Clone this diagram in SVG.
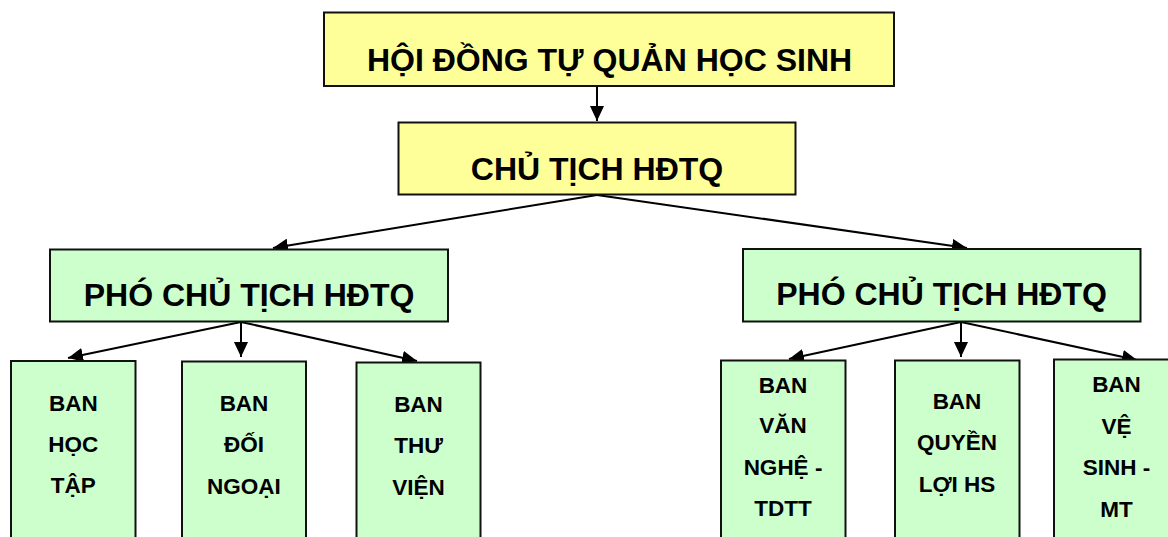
<svg xmlns="http://www.w3.org/2000/svg" width="1168" height="537" viewBox="0 0 1168 537">
<style>
.y{fill:#FFFF99;stroke:#111;stroke-width:2}
.g{fill:#CCFFCC;stroke:#111;stroke-width:2}
.t{font-family:"Liberation Sans",Arial,sans-serif;font-weight:bold;font-size:32px;fill:#000;text-anchor:middle}
.s{font-family:"Liberation Sans",Arial,sans-serif;font-weight:bold;font-size:22.5px;fill:#000;text-anchor:middle}
.c{stroke:#000;stroke-width:2;fill:none;marker-end:url(#ah)}
</style>
<defs>
<marker id="ah" markerUnits="userSpaceOnUse" markerWidth="15" markerHeight="14" refX="15" refY="7" orient="auto">
<path d="M0,0 L15,7 L0,14 z" fill="#000"/>
</marker>
</defs>
<rect width="1168" height="537" fill="#fff"/>
<g id="connectors">
<line class="c" x1="597" y1="86" x2="597" y2="121"/>
<line class="c" x1="597" y1="195" x2="273" y2="248"/>
<line class="c" x1="597" y1="195" x2="967" y2="248"/>
<line class="c" x1="241" y1="322" x2="68" y2="358"/>
<line class="c" x1="241" y1="322" x2="241" y2="357"/>
<line class="c" x1="241" y1="322" x2="417" y2="361"/>
<line class="c" x1="961" y1="322" x2="789" y2="359"/>
<line class="c" x1="961" y1="322" x2="961" y2="357"/>
<line class="c" x1="961" y1="322" x2="1137" y2="360"/>
</g>
<g id="hoidong">
<rect class="y" x="324" y="12.5" width="570" height="73.5"/>
<text class="t" x="609.5" y="71">HỘI ĐỒNG TỰ QUẢN HỌC SINH</text>
</g>
<g id="chutich">
<rect class="y" x="398.5" y="122.5" width="397" height="72"/>
<text class="t" x="597" y="180">CHỦ TỊCH HĐTQ</text>
</g>
<g id="phochutich1">
<rect class="g" x="50" y="249.5" width="398" height="72"/>
<text class="t" x="249" y="306">PHÓ CHỦ TỊCH HĐTQ</text>
</g>
<g id="phochutich2">
<rect class="g" x="743" y="249" width="397.5" height="72.5"/>
<text class="t" x="941.5" y="305">PHÓ CHỦ TỊCH HĐTQ</text>
</g>
<g id="banhoctap">
<rect class="g" x="11" y="361" width="124.5" height="190"/>
<text class="s" x="73.3" y="411">BAN</text>
<text class="s" x="73.3" y="452">HỌC</text>
<text class="s" x="73.3" y="493">TẬP</text>
</g>
<g id="bandoingoai">
<rect class="g" x="182" y="361.5" width="124" height="190"/>
<text class="s" x="244" y="411">BAN</text>
<text class="s" x="244" y="452">ĐỐI</text>
<text class="s" x="244" y="494">NGOẠI</text>
</g>
<g id="banthuvien">
<rect class="g" x="356.5" y="362.5" width="124" height="190"/>
<text class="s" x="418.5" y="412">BAN</text>
<text class="s" x="418.5" y="453">THƯ</text>
<text class="s" x="418.5" y="495">VIỆN</text>
</g>
<g id="banvannghe">
<rect class="g" x="721" y="360.5" width="124.5" height="190"/>
<text class="s" x="783" y="393">BAN</text>
<text class="s" x="783" y="433">VĂN</text>
<text class="s" x="783" y="474.5">NGHỆ -</text>
<text class="s" x="783" y="516">TDTT</text>
</g>
<g id="banquyenloi">
<rect class="g" x="895" y="360.5" width="124.5" height="190"/>
<text class="s" x="957" y="408.5">BAN</text>
<text class="s" x="957" y="450">QUYỀN</text>
<text class="s" x="957" y="492">LỢI HS</text>
</g>
<g id="banvesinh">
<rect class="g" x="1054" y="359.5" width="125" height="190"/>
<text class="s" x="1116.5" y="392">BAN</text>
<text class="s" x="1116.5" y="434">VỆ</text>
<text class="s" x="1116.5" y="475">SINH -</text>
<text class="s" x="1116.5" y="516.5">MT</text>
</g>
</svg>
